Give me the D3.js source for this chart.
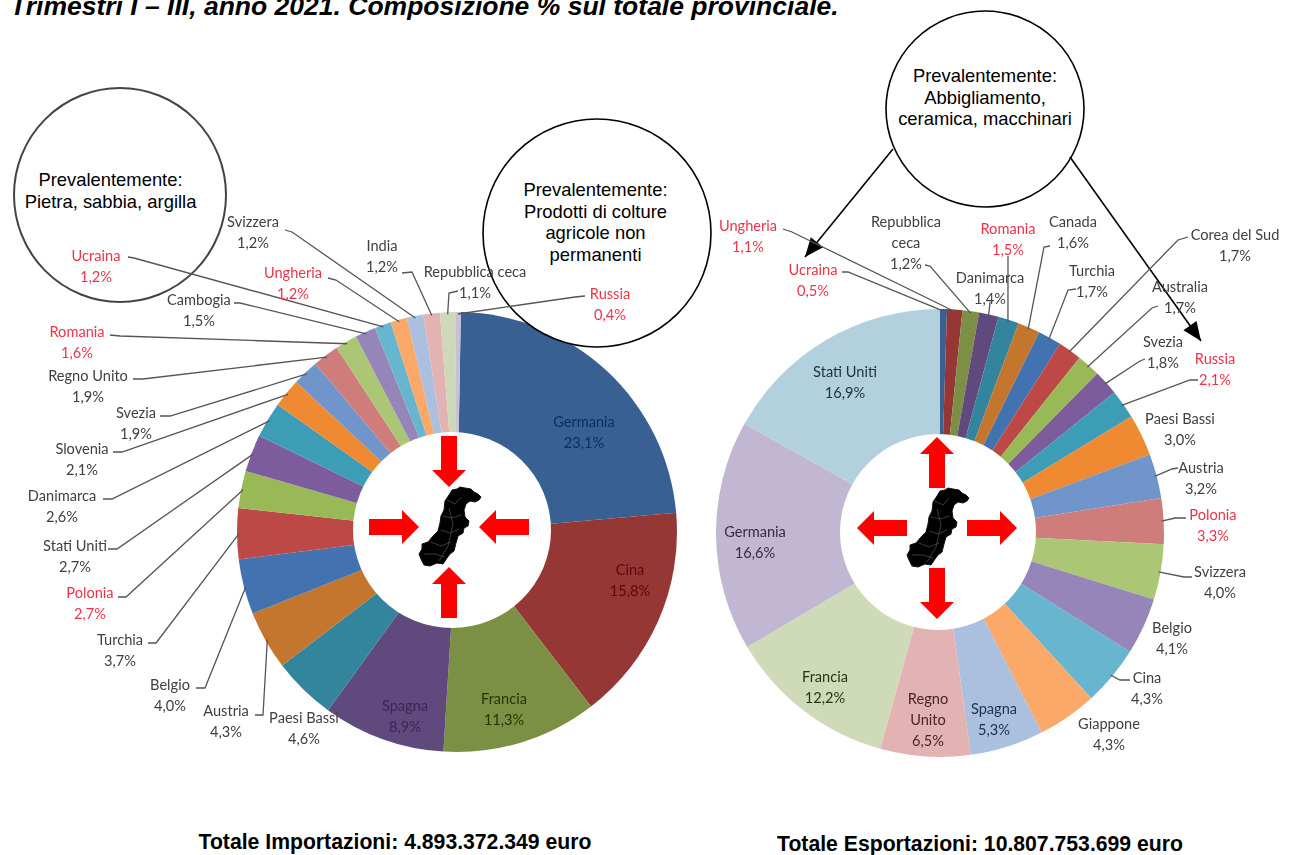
<!DOCTYPE html>
<html>
<head>
<meta charset="utf-8">
<script src="https://cdn.jsdelivr.net/npm/d3@7"></script>
<style>
  body { margin: 0; background: #fff; }
  text { font-family: Lato, sans-serif; }
  .callout text, .heading { font-family: "Liberation Sans", Arial, sans-serif; }
</style>
</head>
<body>
<div id="chart"></div>
<script>
// Imports, clockwise from the top of the pie
var importNames = ["Germania", "Cina", "Francia", "Spagna", "Paesi Bassi", "Austria", "Belgio", "Turchia",
    "Polonia", "Stati Uniti", "Danimarca", "Slovenia", "Svezia", "Regno Unito", "Romania", "Cambogia",
    "Ucraina", "Ungheria", "Svizzera", "India", "Repubblica ceca", "Russia"];
var importValues = [23.1, 15.8, 11.3, 8.9, 4.6, 4.3, 4.0, 3.7, 2.7, 2.7, 2.6, 2.1, 1.9, 1.9, 1.6, 1.5, 1.2, 1.2, 1.2, 1.2, 1.1, 0.4];

// Exports, clockwise from the top of the pie
var exportNames = ["Ucraina", "Ungheria", "Repubblica|ceca", "Danimarca", "Romania", "Canada", "Turchia",
    "Corea del Sud", "Australia", "Svezia", "Russia", "Paesi Bassi", "Austria", "Polonia", "Svizzera", "Belgio",
    "Cina", "Giappone", "Spagna", "Regno|Unito", "Francia", "Germania", "Stati Uniti"];
var exportValues = [0.5, 1.1, 1.2, 1.4, 1.5, 1.6, 1.7, 1.7, 1.7, 1.8, 2.1, 3.0, 3.2, 3.3, 4.0, 4.1, 4.3, 4.3, 5.3, 6.5, 12.2, 16.6, 16.9];

// Countries written in red
var redCountries = ["Ucraina", "Ungheria", "Romania", "Polonia", "Russia"];
// Labels that sit on their slice
var importInside = ["Germania", "Cina", "Francia", "Spagna"];
var exportInside = ["Spagna", "Regno|Unito", "Francia", "Germania", "Stati Uniti"];

var importColours = ["#386192", "#953735", "#7b9044", "#604a7b", "#31859c", "#c4762f", "#4372b0", "#bd4a47",
    "#98b954", "#7c5b9c", "#3d9db6", "#ef8a30", "#7095cb", "#cf7d7a", "#abc675", "#9585b8", "#68b5cf",
    "#fba968", "#abc0de", "#e2b3b2", "#cdd9b9", "#c8c0d8"];
var exportColours = ["#386192", "#953735", "#7b9044", "#604a7b", "#31859c", "#c4762f", "#4372b0", "#bd4a47",
    "#98b954", "#7c5b9c", "#3d9db6", "#ef8a30", "#7095cb", "#cf7d7a", "#abc675", "#9585b8", "#68b5cf",
    "#fba968", "#abc0de", "#e2b3b2", "#cfdab9", "#c2b7d2", "#b3d0de"];

// Hand placed label centres (first line), as in the original callouts
var importLabelPos = [[584, 427], [630, 575], [504, 704], [405, 711], [304, 723], [226, 716], [170, 690], [120, 645],
    [90, 598], [75, 551], [62, 501], [82, 454], [136, 418], [88, 381], [77, 337], [199, 305],
    [96, 261], [293, 278], [253, 227], [382, 251], [475, 277], [610, 299]];
var exportLabelPos = [[813, 275], [748, 231], [906, 227], [990, 283], [1008, 234], [1073, 227], [1092, 276],
    [1235, 240], [1180, 292], [1163, 347], [1215, 364], [1180, 424], [1201, 473], [1213, 520], [1220, 577], [1172, 633],
    [1147, 683], [1109, 729], [994, 714], [928, 704], [825, 682], [755, 537], [845, 377]];

// Leader lines: start at the label, then an elbow; the end is taken from the slice
var importLeaders = [null, null, null, null, null, [[255, 715], [263, 715]], [[196, 688], [205, 688]], [[148, 643], [156, 643]],
    [[118, 597], [126, 597]], [[108, 549], [117, 549]], [[103, 499], [112, 499]], [[113, 452], [122, 452]], [[160, 416], [170, 416]],
    [[133, 379], [143, 379]], [[110, 335], [120, 336]], [[234, 303], [240, 303]], [[128, 257], [134, 258]], [[328, 278], [336, 280]],
    [[285, 230], [292, 232]], [[402, 273], [412, 272]], [[458, 291], [449, 293]], [[585, 296], [575, 297]]];
var exportLeaders = [[[842, 272], [848, 272]], [[783, 229], [792, 232]], [[925, 265], [930, 266]], [[990, 302], [990, 303]],
    [[1008, 256], [1008, 257]], [[1050, 246], [1044, 247]], [[1076, 289], [1068, 290]], [[1188, 237], [1178, 240]],
    [[1158, 306], [1152, 308]], [[1145, 359], [1140, 361]], [[1198, 380], [1190, 380]], null, [[1178, 468], [1172, 469]],
    [[1186, 518], [1175, 518]], [[1192, 577], [1184, 577]], null, [[1130, 680], [1120, 680]], null, null, null, null, null, null];

var callouts = [
    {cx: 120, cy: 195, rx: 106, ry: 107, stroke: "#444", width: 2, lines: ["Prevalentemente:", "Pietra, sabbia, argilla"], textX: 110.5, textY: 186},
    {cx: 597, cy: 233, rx: 114, ry: 114, stroke: "#000", width: 1.6, lines: ["Prevalentemente:", "Prodotti di colture", "agricole non", "permanenti"], textX: 595.5, textY: 196},
    {cx: 985, cy: 109, rx: 99, ry: 98, stroke: "#000", width: 1.6, lines: ["Prevalentemente:", "Abbigliamento,", "ceramica, macchinari"], textX: 985, textY: 82}
];

// Outline of the province, around the middle of the hole
var mapOutline = [[-2, -35], [1, -40], [6, -41], [9, -43], [14, -42], [20, -41], [23, -38], [27, -36], [30, -33], [28, -30], [24, -28], [19, -29],
    [15, -26], [13, -20], [14, -13], [18, -9], [17, -4], [13, -2], [12, 3], [7, 6], [5, 13], [3, 21], [-1, 24], [-4, 28], [-8, 34], [-14, 33], [-21, 36], [-27, 35],
    [-30, 29], [-32, 24], [-29, 19], [-29, 14], [-23, 12], [-18, 6], [-13, 1], [-11, -7], [-10, -14], [-7, -20], [-6, -29]];
// Boundaries between municipalities inside the shape
var mapBorders = [[[-4, -30], [4, -26], [10, -33]], [[-8, -14], [1, -12], [10, -15]], [[-10, 0], [-1, 3], [8, -1]],
    [[-20, 12], [-10, 16], [0, 12]], [[-27, 24], [-16, 24], [-6, 27]], [[-2, -22], [2, -6], [-3, 16], [-12, 31]]];

var width = 1293, height = 855;
var formatPct = function (v) { return d3.format(".1f")(v).replace(".", ",") + "%"; };

var svg = d3.select("#chart").append("svg").attr("width", width).attr("height", height);

var defs = svg.append("defs");
defs.append("filter").attr("id", "soft").append("feGaussianBlur").attr("stdDeviation", 0.55);

svg.append("text").attr("class", "heading")
    .attr("x", 10).attr("y", 15)
    .style("font-size", "26.5px").style("font-weight", "bold").style("font-style", "italic")
    .text("Trimestri I – III, anno 2021. Composizione % sul totale provinciale.");

/**
 * Draws one doughnut with its hole, arrows and map
 */
function drawPie(opt) {
    var arcs = d3.pie().sort(null).value(function (d) { return d; })
        .startAngle(opt.turn).endAngle(opt.turn + 2 * Math.PI)(opt.values);
    var arc = d3.arc().innerRadius(0).outerRadius(opt.r);
    var edge = d3.arc().innerRadius(opt.r - 2).outerRadius(opt.r - 2);

    var g = svg.append("g").attr("filter", "url(#soft)");
    g.append("g").attr("transform", "translate(" + opt.cx + "," + opt.cy + ")")
        .selectAll("path").data(arcs).enter().append("path")
        .attr("d", arc)
        .style("fill", function (d, i) { return opt.colours[i]; });

    // white hole
    g.append("ellipse")
        .attr("cx", opt.hole[0]).attr("cy", opt.hole[1])
        .attr("rx", opt.hole[2]).attr("ry", opt.hole[3])
        .style("fill", "#fff");

    var middle = svg.append("g").attr("transform", "translate(" + opt.arrowsAt[0] + "," + opt.arrowsAt[1] + ")");
    drawArrows(middle, opt.inward);
    var map = middle.append("g").attr("transform", "translate(2,3)");
    map.append("path")
        .attr("d", d3.line().curve(d3.curveLinearClosed)(mapOutline))
        .style("fill", "#000")
        .style("stroke", "#111");
    map.selectAll("path.border").data(mapBorders).enter().append("path")
        .attr("class", "border")
        .attr("d", d3.line())
        .style("fill", "none").style("stroke", "#555").style("stroke-width", 0.7);

    return {arcs: arcs, edge: edge};
}

/**
 * The four red arrows in the hole
 */
function drawArrows(g, inward) {
    // [angle, inner distance, outer distance]
    var arrows = [[0, 40, 91], [90, 30, 80], [180, 40, 91], [270, 30, 80]];
    arrows.forEach(function (a) {
        var from = inward ? a[2] : a[1], to = inward ? a[1] : a[2], dir = to > from ? 1 : -1;
        var neck = to - dir * 17;
        g.append("polygon")
            .attr("points", [[-8, -from], [8, -from], [8, -neck], [17, -neck], [0, -to], [-17, -neck], [-8, -neck]].join(" "))
            .attr("transform", "rotate(" + a[0] + ")")
            .style("fill", "#f00");
    });
}

/**
 * Leader lines and label text, drawn after the callout circles
 */
function drawLabels(opt, pie) {
    var line = d3.line();
    var g = svg.append("g").attr("filter", "url(#soft)");

    g.selectAll("path.leader").data(pie.arcs.filter(function (d, i) { return opt.leaders[i]; })).enter().append("path")
        .attr("class", "leader")
        .attr("d", function (d) {
            var c = pie.edge.centroid(d);
            return line(opt.leaders[d.index].concat([[opt.cx + c[0], opt.cy + c[1]]]));
        })
        .style("fill", "none").style("stroke", "#555").style("stroke-width", 1.3);

    opt.names.forEach(function (name, i) {
        var colour = "#404040";
        if (redCountries.indexOf(name) >= 0) {
            colour = "#f0334a";
        } else if (opt.inside.indexOf(name) >= 0) {
            var dark = d3.lab(opt.colours[i]);
            dark.l = 20;
            colour = dark.formatHex();
        }
        var lines = name.split("|").concat([formatPct(opt.values[i])]);
        g.append("text")
            .attr("text-anchor", "middle")
            .attr("x", opt.labelPos[i][0]).attr("y", opt.labelPos[i][1])
            .style("font-size", "14.6px")
            .style("fill", colour)
            .selectAll("tspan").data(lines).enter().append("tspan")
            .attr("x", opt.labelPos[i][0])
            .attr("dy", function (d, k) { return k ? 21 : 0; })
            .text(function (d) { return d; });
    });
}

var importOpt = {values: importValues, names: importNames, colours: importColours, labelPos: importLabelPos, leaders: importLeaders, inside: importInside,
    cx: 457, cy: 532, r: 220, turn: 1 * Math.PI / 180, hole: [452, 530, 99, 98], arrowsAt: [449, 527], inward: true};
var exportOpt = {values: exportValues, names: exportNames, colours: exportColours, labelPos: exportLabelPos, leaders: exportLeaders, inside: exportInside,
    cx: 940, cy: 533, r: 224, turn: 0, hole: [938, 532, 98, 98], arrowsAt: [937, 528], inward: false};

var importPie = drawPie(importOpt);
var exportPie = drawPie(exportOpt);

// Callout circles go over the pies, labels over the circles
var calloutG = svg.selectAll("g.callout").data(callouts).enter().append("g").attr("class", "callout");
calloutG.append("ellipse")
    .attr("cx", function (d) { return d.cx; }).attr("cy", function (d) { return d.cy; })
    .attr("rx", function (d) { return d.rx; }).attr("ry", function (d) { return d.ry; })
    .style("fill", "#fff")
    .style("stroke", function (d) { return d.stroke; })
    .style("stroke-width", function (d) { return d.width; });
calloutG.each(function (d) {
    d3.select(this).selectAll("text").data(d.lines).enter().append("text")
        .attr("text-anchor", "middle")
        .attr("x", d.textX)
        .attr("y", function (l, k) { return d.textY + k * 21.7; })
        .style("font-size", "18.4px")
        .style("fill", "#000")
        .text(function (l) { return l; });
});

// Black arrows from the export callout to the two countries
var arrowLines = [[[893, 149], [805, 257]], [[1070, 157], [1201, 341]]];
arrowLines.forEach(function (a) {
    var angle = Math.atan2(a[1][1] - a[0][1], a[1][0] - a[0][0]) * 180 / Math.PI;
    svg.append("line")
        .attr("x1", a[0][0]).attr("y1", a[0][1]).attr("x2", a[1][0]).attr("y2", a[1][1])
        .style("stroke", "#000").style("stroke-width", 1.6);
    svg.append("polygon")
        .attr("points", "0,0 -19,-8 -19,8")
        .attr("transform", "translate(" + a[1][0] + "," + a[1][1] + ") rotate(" + angle + ")")
        .style("fill", "#000");
});

drawLabels(importOpt, importPie);
drawLabels(exportOpt, exportPie);

var totals = [["Totale Importazioni: 4.893.372.349 euro", 395, 849], ["Totale Esportazioni: 10.807.753.699 euro", 980, 851]];
totals.forEach(function (t) {
    svg.append("text").attr("class", "heading")
        .attr("text-anchor", "middle").attr("x", t[1]).attr("y", t[2])
        .style("font-size", "21.2px").style("font-weight", "bold")
        .text(t[0]);
});
</script>
</body>
</html>
